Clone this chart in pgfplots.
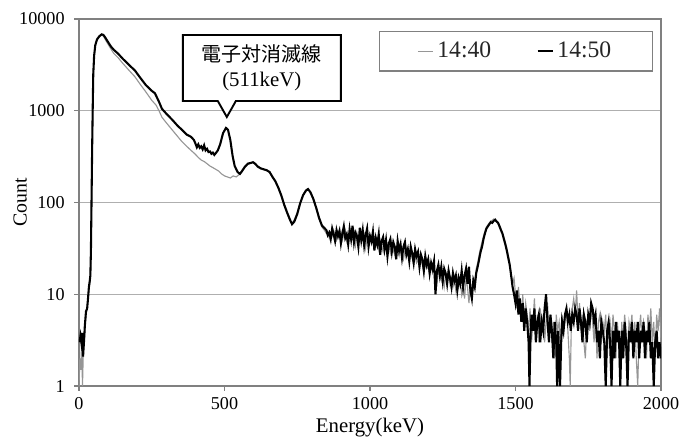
\documentclass[border=0pt]{standalone}
\usepackage{fontspec}
\setmainfont{Liberation Serif}
\newfontfamily\jp{Noto Sans CJK JP}
\usepackage{pgfplots}
\pgfplotsset{compat=1.18}
\usetikzlibrary{calc}
\definecolor{lgray}{RGB}{150,150,150}
\definecolor{framegray}{RGB}{128,128,128}
\definecolor{gridgray}{RGB}{175,175,175}
\begin{document}
\begin{tikzpicture}
\begin{axis}[
  width=308.1pt, height=194.3pt, scale only axis,
  xmin=0, xmax=2000, ymode=log, ymin=1, ymax=10000,
  xtick={0,500,1000,1500,2000}, xticklabels={0,500,1000,1500,2000},
  ytick={1,10,100,1000,10000}, yticklabels={1,10,100,1000,10000},
  yminorticks=false, ymajorgrids,
  grid style={gridgray, line width=0.5pt},
  axis line style={framegray, line width=0.6pt},
  every tick/.style={framegray, line width=0.6pt},
  tick align=outside, major tick length=2.6pt,
  xtick pos=left, ytick pos=left,
  /pgf/number format/assume math mode=true,
  tick label style={font=\fontsize{9.6}{11}\selectfont},
  yticklabel style={xshift=-1.5pt},
  xlabel={Energy(keV)}, ylabel={Count},
  xlabel style={at={(axis description cs:0.5,-0.112)}, anchor=center, font=\fontsize{11}{13}\selectfont},
  ylabel style={at={(axis description cs:-0.101,0.5)}, anchor=center, font=\fontsize{10.5}{12}\selectfont},
  legend columns=2,
  legend image code/.code={\draw[#1] (0pt,0pt) -- (8pt,0pt);},
  legend style={at={(rel axis cs:0.5155,0.967)}, anchor=north west,
    draw=framegray, line width=0.6pt, inner xsep=20pt, inner ysep=3.5pt,
    font=\fontsize{12.5}{14}\selectfont, text=black!85,
    /tikz/every even column/.append style={column sep=22pt}},
]
\addplot[lgray, line width=0.6pt] coordinates {
(0,1) (3,2) (6,1.5) (9,3) (12,1) (15,2.5) (18,3) (22,5) (26,6.5) (30,8.5) (34,11) (37,13) (39,15) (41,28) (43,95) (45,330) (47,950) (49,2400) (52,3900) (56,5100) (62,5900) (70,6400) (78,6700) (84,6500) (90,6000) (100,5300) (110,4700) (120,4200) (134,3800) (150,3300) (170,2800) (192,2350) (210,1950) (230,1600) (250,1300) (265,1150) (275,1000) (285,850) (300,740) (320,620) (340,520) (354,460) (370,410) (385,370) (398,340) (410,310) (420,290) (430,280) (440,265) (450,250) (460,240) (470,230) (480,220) (490,205) (500,195) (510,190) (520,185) (530,195) (540,190)
(553,205) (560,215) (570,240) (580,260) (590,268) (598,272) (605,262) (615,250) (625,238) (635,228) (645,222) (655,212) (665,188) (675,168) (685,142) (695,118) (705,92) (715,76) (725,63) (732,60) (740,65) (750,78) (760,100) (770,122) (780,137) (787,142) (795,128) (805,108) (815,85) (825,66) (835,54) (845,49)
(850,46) (855,49) (860,41) (865,47) (870,43) (875,50) (880,44) (885,39) (890,47) (895,42) (900,48) (905,39) (910,45) (915,50) (920,38) (925,44) (930,42) (935,48) (940,40) (945,45) (950,34) (955,47) (960,41) (965,45) (970,37) (975,43) (980,46) (985,32) (990,41) (995,37) (1000,44) (1005,35) (1010,39) (1015,42) (1020,33) (1025,37) (1030,31) (1035,39) (1040,34) (1045,29) (1050,36) (1055,33) (1060,30) (1065,35) (1070,28) (1075,33) (1080,30) (1085,27) (1090,32) (1095,29) (1100,26) (1105,31) (1110,28) (1115,24) (1120,30) (1125,26) (1130,28) (1135,23) (1140,27) (1145,25) (1150,21) (1155,26) (1160,22) (1165,24) (1170,19) (1175,23) (1180,21) (1185,17) (1190,22) (1195,19) (1200,20) (1205,16) (1210,21) (1215,17) (1220,19) (1225,15) (1230,13) (1235,18) (1240,16) (1245,14) (1250,17) (1255,12) (1260,16) (1265,14) (1270,19) (1275,13) (1280,15) (1285,12) (1290,14) (1295,11) (1300,15) (1305,12) (1310,14) (1315,10) (1320,13) (1325,9) (1330,15) (1335,12) (1340,8) (1345,13) (1350,11) (1355,15) (1360,14) (1365,19) (1370,22) (1375,27) (1380,32)
(1385,37) (1390,43) (1395,49) (1400,54) (1405,57) (1410,60) (1415,63) (1420,64) (1425,66) (1430,64) (1435,63) (1440,61) (1445,57)
(1450,52) (1455,47) (1460,42) (1465,37) (1470,32) (1475,27) (1480,22) (1485,17) (1490,13) (1495,15) (1500,10) (1505,7) (1510,12) (1515,8) (1520,6) (1525,10) (1530,5) (1535,8) (1540,6) (1545,4) (1550,7) (1555,3) (1560,5) (1565,9) (1570,4) (1575,6) (1580,3) (1585,7) (1590,4) (1595,6) (1600,3) (1605,5) (1610,8) (1615,4) (1620,6) (1625,3) (1630,5) (1635,2) (1640,6) (1645,4) (1650,5) (1655,3) (1660,6) (1665,4) (1670,5) (1675,7) (1680,4) (1685,2) (1688,1) (1692,5) (1695,7) (1700,9) (1705,6) (1710,11) (1715,5) (1720,8) (1725,4) (1730,6) (1735,3) (1740,2) (1745,5) (1750,6) (1755,4) (1760,7) (1765,5) (1770,3) (1775,6) (1780,2) (1785,5) (1790,6) (1795,3) (1800,5) (1805,4) (1810,6) (1815,2) (1820,4) (1825,5) (1830,3) (1835,6) (1840,4) (1845,2) (1850,5) (1855,3) (1860,1) (1865,5) (1870,3) (1875,6) (1880,4) (1885,2) (1890,5) (1895,4) (1900,6) (1905,3) (1910,5) (1915,2) (1920,1) (1925,4) (1930,6) (1935,3) (1940,5) (1945,4) (1950,2) (1955,6) (1960,4) (1965,7) (1970,3) (1975,5) (1980,2) (1985,6) (1990,4) (1995,7) (2000,3)
};
\addlegendentry{14:40}
\addplot[black, line width=1.1pt] coordinates {
(2,3) (5,3.5) (8,3.0) (11,3.8) (14,2.1) (17,3.0) (20,4.5) (24,6.5) (28,7) (31,9) (34,12) (37,14) (39,16) (41,30) (43,100) (45,350) (47,1000) (49,2500) (52,4000) (56,5200) (62,6000) (70,6500) (78,6800) (84,6700) (90,6300) (100,5600) (110,5000) (120,4600) (134,4200) (150,3700) (170,3200) (192,2750) (210,2300) (230,1900) (250,1650) (261,1550) (275,1250) (285,1050) (300,930) (320,800) (340,680) (354,620) (370,550) (385,520) (395,480)
(400,440) (405,400) (410,430) (415,395) (420,410) (425,380) (430,420) (435,370) (440,385) (445,355) (450,360) (455,340) (460,350) (465,330) (470,345) (477,370) (485,430) (495,570) (505,650) (512,620) (520,480) (528,320) (535,250) (545,215) (553,205) (560,220) (570,245) (580,265) (590,270) (598,275) (605,265) (615,245) (625,235) (635,230) (645,225) (655,215) (665,190) (675,170) (685,145) (695,120) (705,95) (715,78) (725,65) (732,58) (740,62) (750,75) (760,98) (770,120) (780,135) (787,140) (795,130) (805,110) (815,88) (825,68) (835,56) (845,52)
(850,50) (855,44) (860,47) (865,40) (870,52) (875,45) (880,38) (885,50) (890,43) (895,49) (900,36) (905,46) (910,55) (915,41) (920,45) (925,35) (930,51) (935,40) (940,56) (945,37) (950,47) (955,43) (960,33) (965,53) (970,39) (975,50) (980,34) (985,44) (990,52) (995,33) (1000,43) (1005,38) (1010,48) (1015,30) (1020,41) (1025,35) (1030,45) (1035,27) (1040,38) (1045,42) (1050,31) (1055,39) (1060,26) (1065,36) (1070,40) (1075,29) (1080,37) (1085,33) (1090,24) (1095,38) (1100,30) (1105,35) (1110,25) (1115,33) (1120,37) (1125,27) (1130,31) (1135,23) (1140,33) (1145,28) (1150,22) (1155,31) (1160,26) (1165,29) (1170,20) (1175,27) (1180,24) (1185,18) (1190,26) (1195,21) (1200,24) (1205,17) (1210,22) (1215,19) (1220,23) (1225,10) (1230,18) (1235,21) (1240,16) (1245,20) (1250,14) (1255,19) (1260,17) (1265,13) (1270,18) (1275,15) (1280,12) (1285,17) (1290,14) (1295,16) (1300,11) (1305,15) (1310,13) (1315,18) (1320,12) (1325,16) (1330,19) (1335,13) (1340,20) (1345,11) (1350,9) (1355,14) (1360,12) (1365,17) (1370,20) (1375,24) (1380,29)
(1385,33) (1390,40) (1395,46) (1400,52) (1405,55) (1410,58) (1415,61) (1420,60) (1425,63) (1430,65) (1435,62) (1440,60) (1445,55)
(1450,50) (1455,46) (1460,40) (1465,35) (1470,30) (1475,25) (1480,21) (1485,16) (1490,12) (1495,10) (1500,8) (1505,11) (1510,6) (1515,9) (1520,5) (1525,8) (1530,4) (1535,7) (1540,5) (1545,3) (1548,1) (1552,4) (1555,6) (1560,4) (1565,7) (1570,3) (1575,5) (1580,6) (1585,3) (1590,5) (1595,4) (1600,7) (1605,10) (1610,5) (1615,3) (1620,6) (1625,4) (1630,2) (1635,5) (1640,3) (1643,1) (1647,4) (1650,2) (1653,1) (1657,3) (1660,5) (1665,4) (1670,6) (1675,7) (1680,5) (1685,6) (1690,4) (1695,6) (1700,5) (1705,7) (1710,6) (1715,4) (1720,7) (1725,5) (1730,3) (1735,6) (1740,5) (1745,3) (1750,6) (1755,5) (1760,8) (1765,7) (1770,5) (1775,6) (1780,3) (1785,4) (1790,2) (1795,5) (1800,4) (1805,3) (1810,1) (1815,4) (1820,5) (1825,3) (1830,1) (1835,4) (1840,2) (1845,5) (1850,3) (1855,4) (1860,1) (1865,4) (1870,2) (1875,5) (1880,3) (1885,1) (1890,4) (1895,3) (1900,5) (1905,2) (1910,4) (1915,3) (1920,5) (1925,2) (1930,4) (1935,3) (1940,5) (1945,2) (1950,4) (1955,3) (1960,5) (1965,2) (1970,3) (1975,1) (1980,3) (1985,4) (1990,2) (1995,3) (2000,2)
};
\addlegendentry{14:50}
% callout
\draw[black, line width=1pt, fill=white] (axis cs:357,6696) -- (axis cs:900,6696) -- (axis cs:900,1277) -- (axis cs:539,1277) -- (axis cs:508,855) -- (axis cs:477,1277) -- (axis cs:357,1277) -- cycle;
\node[anchor=center, font=\fontsize{10.6}{12}\jp] at (axis cs:628,4150) {電子対消滅線};
\node[anchor=center, font=\fontsize{11}{13}\selectfont] at (axis cs:628,2100) {(511keV)};
\coordinate (ll) at (rel axis cs:0,0);
\coordinate (ur) at (rel axis cs:1,1);
\end{axis}
\pgfresetboundingbox
\path[use as bounding box] ($(ll)+(-41.82pt,-27.0pt)$) rectangle ($(ur)+(10.06pt,10.06pt)$);
\end{tikzpicture}
\end{document}
